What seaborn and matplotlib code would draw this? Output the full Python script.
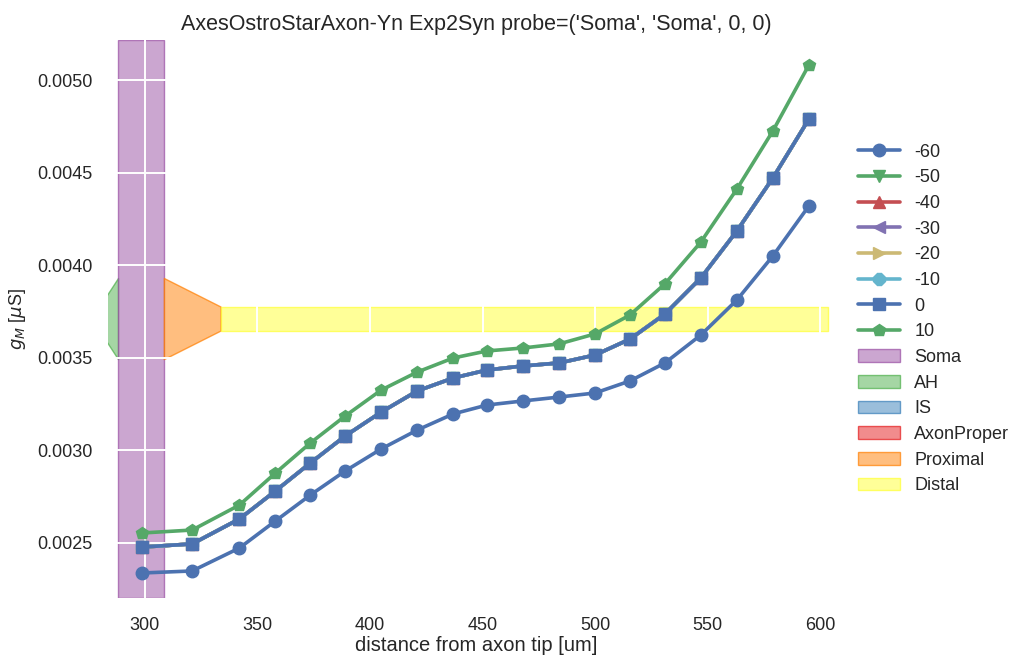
import numpy as np
import matplotlib
matplotlib.use("Agg")
import matplotlib.pyplot as plt
import seaborn as sns
import pandas as pd
from matplotlib.lines import Line2D
from matplotlib.patches import Patch

# ---- data ----
distance = [298.7, 321, 342, 358, 373.5, 389, 405, 421, 437, 452, 468, 484,
            500, 515.5, 531, 547, 563, 579, 595]
g_m60 = [0.002338, 0.002349, 0.002473, 0.002619, 0.002759, 0.002889, 0.003008,
         0.003110, 0.003197, 0.003245, 0.003267, 0.003288, 0.003310, 0.003375,
         0.003472, 0.003623, 0.003812, 0.004050, 0.004320]
g_0 = [0.002478, 0.002495, 0.002630, 0.002781, 0.002932, 0.003078, 0.003207,
       0.003321, 0.003391, 0.003434, 0.003456, 0.003472, 0.003515, 0.003601,
       0.003736, 0.003931, 0.004185, 0.004471, 0.004789]
g_10 = [0.002554, 0.002570, 0.002705, 0.002878, 0.003040, 0.003186, 0.003326,
        0.003423, 0.003499, 0.003537, 0.003553, 0.003575, 0.003629, 0.003731,
        0.003899, 0.004125, 0.004411, 0.004725, 0.005081]
voltages = ["-60", "-50", "-40", "-30", "-20", "-10", "0", "10"]
series = [g_m60, g_0, g_0, g_0, g_0, g_0, g_0, g_10]
markers = ["o", "v", "^", "<", ">", "8", "s", "p"]
line_colors = ["#4C72B0", "#55A868", "#C44E52", "#8172B2", "#CCB974", "#64B5CD",
               "#4C72B0", "#55A868"]

# morphology shapes (x, centre, half-width)
section_names = ["Soma", "AH", "IS", "AxonProper", "Proximal", "Distal"]
section_colors = ["#984ea3", "#4daf4a", "#377eb8", "#e41a1c", "#ff7f00", "#ffff33"]
soma_x = [288.05, 308.4]
ah_x = [279.0, 288.05]
ah_half = [0.00005, 0.000219]
prox_x = [308.4, 333.6]
prox_half = [0.000219, 0.0000648]
dist_x = [333.6, 603.5]
dist_half = [0.0000648, 0.0000648]
shape_center = 0.003712

sns.set_theme(context="notebook", style="darkgrid",
              rc={"axes.facecolor": "white", "grid.color": "white",
                  "grid.linewidth": 1.4})
plt.rcParams["font.family"] = ["Liberation Sans", "DejaVu Sans"]

fig = plt.figure(figsize=(10.18, 6.58), dpi=100)
ax = fig.add_axes([108 / 1018, 60 / 658, (844 - 108) / 1018, (598 - 40) / 658])

for v, ys, m, c in zip(voltages, series, markers, line_colors):
    df = pd.DataFrame({"x": distance, "y": ys})
    sns.lineplot(data=df, x="x", y="y", ax=ax, color=c, marker=m,
                 markersize=9, markeredgecolor=c, markeredgewidth=1,
                 linewidth=2.6, label=v, zorder=3, legend=False)


def shape(xs, half, color, label):
    xs = np.array(xs)
    half = np.array(half)
    ax.fill_between(xs, shape_center - half, shape_center + half,
                    facecolor=matplotlib.colors.to_rgba(color, 0.5),
                    edgecolor=matplotlib.colors.to_rgba(color, 0.7),
                    linewidth=1, zorder=0.2, label=label)


shape(ah_x, ah_half, section_colors[1], "AH")
ax.axvspan(soma_x[0], soma_x[1], facecolor=matplotlib.colors.to_rgba(section_colors[0], 0.5),
           edgecolor=matplotlib.colors.to_rgba(section_colors[0], 0.7), linewidth=1,
           zorder=0.2, label="Soma")
shape(prox_x, prox_half, section_colors[4], "Proximal")
shape(dist_x, dist_half, section_colors[5], "Distal")

ax.set_xlim(283.6, 610.6)
ax.set_ylim(0.002203, 0.005216)
ax.set_xticks([300, 350, 400, 450, 500, 550, 600])
ax.set_yticks([0.0025, 0.0030, 0.0035, 0.0040, 0.0045, 0.0050])
ax.set_yticklabels(["0.0025", "0.0030", "0.0035", "0.0040", "0.0045", "0.0050"])
ax.tick_params(axis="both", labelsize=13)
ax.tick_params(axis="y", pad=5)
ax.tick_params(axis="x", pad=8)
ax.set_xlabel("distance from axon tip [um]", fontsize=14.5, labelpad=1)
ax.set_ylabel(r"$g_M$ [$\mu$S]", fontsize=13, labelpad=7)
ax.set_title("AxesOstroStarAxon-Yn Exp2Syn probe=('Soma', 'Soma', 0, 0)", fontsize=15.5, pad=7)
for s in ax.spines.values():
    s.set_visible(False)

# legend
leg_handles = [Line2D([], [], color=c, marker=m, markersize=9, linewidth=2.6,
                      markeredgecolor=c) for m, c in zip(markers, line_colors)]
leg_labels = list(voltages)
for name, col in zip(section_names, section_colors):
    leg_handles.append(Patch(facecolor=matplotlib.colors.to_rgba(col, 0.5),
                             edgecolor=matplotlib.colors.to_rgba(col, 0.7), linewidth=1))
    leg_labels.append(name)
ax.legend(leg_handles, leg_labels, loc="center left", bbox_to_anchor=(1.0, 0.5),
          frameon=False, fontsize=13, handlelength=2.3, labelspacing=0.48,
          handletextpad=0.8, borderaxespad=0.4)

fig.savefig("out.png", dpi=100)
